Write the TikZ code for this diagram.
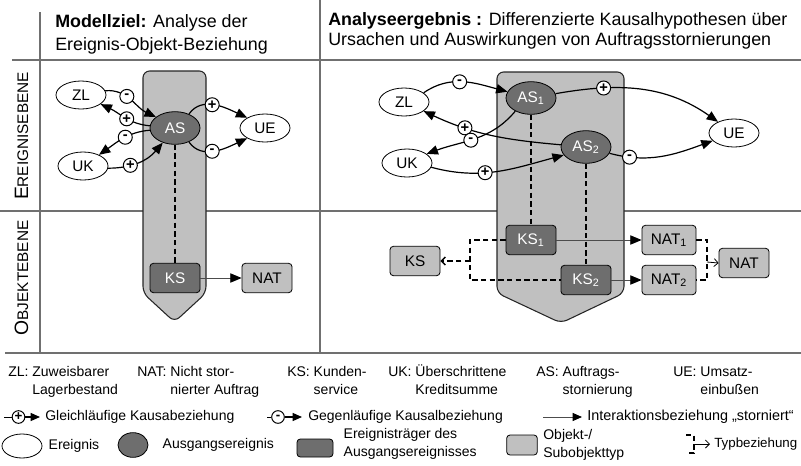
\documentclass[tikz,border=0pt]{standalone}
\usepackage{fontspec}
\setmainfont{Liberation Sans}
\usetikzlibrary{arrows.meta,positioning,shapes.geometric}

\definecolor{hellgrau}{HTML}{C0C0C0}
\definecolor{dunkelgrau}{HTML}{6E6E6E}
\definecolor{liniengrau}{HTML}{707070}

\begin{document}
\begin{tikzpicture}[x=0.75pt,y=0.75pt]
\tikzstyle{trenn}=[draw=liniengrau,line width=0.9pt]
\tikzstyle{saeule}=[draw=black!85,fill=hellgrau,line width=0.8pt,rounded corners=5pt]
\tikzstyle{ereignis}=[ellipse,draw,fill=white,line width=0.6pt,minimum width=37.5pt,minimum height=21pt,inner sep=0pt,font=\fontsize{11.5}{13}\selectfont]
\tikzstyle{ausgang}=[ereignis,fill=dunkelgrau,text=white,minimum height=24.5pt]
\tikzstyle{objekt}=[rectangle,rounded corners=2.5pt,draw,fill=hellgrau,line width=0.6pt,minimum width=37.5pt,minimum height=22pt,inner sep=0pt,font=\fontsize{11.5}{13}\selectfont]
\tikzstyle{traeger}=[objekt,fill=dunkelgrau,text=white]
\tikzstyle{zeichen}=[circle,draw,fill=white,line width=0.75pt,inner sep=0pt,minimum size=10.5pt,font=\fontsize{11}{11}\selectfont\bfseries]
\tikzstyle{kausal}=[draw,line width=0.9pt,-{Triangle[length=8.5pt,width=7pt]}]
\tikzstyle{interaktion}=[draw=black!70,line width=0.7pt,-{Triangle[length=8.5pt,width=7pt,color=black]}]
\tikzstyle{zuordnung}=[draw,line width=1.1pt,dash pattern=on 4pt off 2.5pt]
\tikzstyle{typpfeil}=[draw,line width=0.6pt,-{Straight Barb[length=3pt,width=6pt]}]
\tikzstyle{titel}=[inner sep=0pt,font=\fontsize{13.4}{15}\selectfont]
\tikzstyle{legende}=[inner sep=0pt,font=\fontsize{10.5}{13.5}\selectfont]
\tikzstyle{ebene}=[inner sep=0pt,rotate=90,anchor=base,font=\fontsize{11.5}{13}\selectfont]

\useasboundingbox (0,0) rectangle (801,-465);

% Raster
\draw[trenn] (12,-60) -- (801,-60);
\draw[trenn] (0,-211) -- (801,-211);
\draw[trenn] (5,-353) -- (801,-353);
\draw[trenn] (40,-12) -- (40,-353);
\draw[trenn] (320,0) -- (320,-353);

\node[ebene] (ebE) at (28,-136) {{\fontsize{14.5}{15}\selectfont E}REIGNISEBENE};
\node[ebene] (ebO) at (28,-278) {{\fontsize{14.5}{15}\selectfont O}BJEKTEBENE};

\node[titel,anchor=base west] (zielA) at (55,-27) {\textbf{Modellziel:} Analyse der};
\node[titel,anchor=base west] (zielB) at (55,-50) {Ereignis-Objekt-Beziehung};
\node[titel,anchor=base west] (ergA) at (328,-25) {\textbf{Analyseergebnis :} Differenzierte Kausalhypothesen über};
\node[titel,anchor=base west] (ergB) at (328,-45) {Ursachen und Auswirkungen von Auftragsstornierungen};

% Ereignistraeger
\draw[saeule] (174.5,-71) -- (206,-71) -- (206,-293) -- (174.5,-322) -- (143,-293) -- (143,-71) -- cycle;
\draw[saeule] (561,-72) -- (624,-72) -- (624,-293) -- (561,-323) -- (497,-293) -- (497,-72) -- cycle;

% Modellziel
\node[ereignis] (ZLa) at (81,-95) {ZL};
\node[ereignis] (UKa) at (83,-166) {UK};
\node[ausgang] (ASa) at (175,-128) {AS};
\node[ereignis] (UEa) at (265,-128) {UE};
\node[traeger] (KSa) at (175,-278) {KS};
\node[objekt] (NATa) at (267,-278) {NAT};

\draw[kausal] (ZLa.10) to[out=5,in=155] node[zeichen,pos=0.4]{-} (ASa.150);
\draw[kausal] (ASa.175) to[out=175,in=-25] node[zeichen,pos=0.45]{+} (ZLa.-25);
\draw[kausal] (ASa.185) to[out=185,in=35] node[zeichen,pos=0.45]{-} (UKa.35);
\draw[kausal] (UKa.-5) to[out=0,in=-130] node[zeichen,pos=0.35]{+} (ASa.-130);
\draw[kausal] (ASa.45) to[out=55,in=155] node[zeichen,pos=0.45]{+} (UEa.150);
\draw[kausal] (ASa.-45) to[out=-55,in=-155] node[zeichen,pos=0.45]{-} (UEa.-150);
\draw[zuordnung] (ASa) -- (KSa);
\draw[interaktion] (KSa) -- (NATa);

% Analyseergebnis
\node[ereignis] (ZLb) at (404,-102) {ZL};
\node[ereignis] (UKb) at (407,-163) {UK};
\node[ausgang] (ASb1) at (531,-98) {AS\textsubscript{1}};
\node[ausgang] (ASb2) at (586,-147) {AS\textsubscript{2}};
\node[ereignis] (UEb) at (734,-133) {UE};
\node[traeger] (KSb1) at (531,-240) {KS\textsubscript{1}};
\node[traeger] (KSb2) at (586,-280) {KS\textsubscript{2}};
\node[objekt] (KSb) at (415,-261) {KS};
\node[objekt,minimum width=40.5pt] (NATb1) at (669,-240) {NAT\textsubscript{1}};
\node[objekt,minimum width=40.5pt] (NATb2) at (669,-280) {NAT\textsubscript{2}};
\node[objekt] (NATb) at (744,-263) {NAT};

\draw[kausal] (ZLb.25) to[out=35,in=165] node[zeichen,pos=0.45]{-} (ASb1.165);
\draw[kausal] (ASb2.175) to[out=175,in=-25] node[zeichen,pos=0.7]{+} (ZLb.-25);
\draw[kausal] (ASb1.-140) to[out=-130,in=20] node[zeichen,pos=0.55]{-} (UKb.25);
\draw[kausal] (UKb.-10) to[out=-15,in=-165] node[zeichen,pos=0.4]{+} (ASb2.-160);
\draw[kausal] (ASb1.10) to[out=10,in=145] node[zeichen,pos=0.27]{+} (UEb.145);
\draw[kausal] (ASb2.-15) to[out=-15,in=-160] node[zeichen,pos=0.18]{-} (UEb.-160);
\draw[zuordnung] (ASb1) -- (KSb1);
\draw[zuordnung] (ASb2) -- (KSb2);
\draw[interaktion] (KSb1) -- (NATb1);
\draw[interaktion] (KSb2) -- (NATb2);

\coordinate (kKS) at (470,-261);
\coordinate (kNAT) at (707,-262);
\draw[zuordnung] (KSb1.west) -| (kKS) |- (KSb2.west);
\draw[zuordnung,-{Straight Barb[length=3pt,width=6pt]}] (kKS) -- (KSb.east);
\draw[zuordnung] (NATb1.east) -| (kNAT) |- (NATb2.east);
\draw[typpfeil] (kNAT) -- (NATb.west);

% Legende
\node[legende,anchor=base west] (lZL) at (8,-376) {\begin{tabular}[t]{@{}l@{\ }l@{}}ZL: & Zuweisbarer\\ & Lagerbestand\end{tabular}};
\node[legende,anchor=base west] (lNAT) at (137,-376) {\begin{tabular}[t]{@{}l@{\ }l@{}}NAT: & Nicht stor-\\ & nierter Auftrag\end{tabular}};
\node[legende,anchor=base west] (lKS) at (287,-376) {\begin{tabular}[t]{@{}l@{\ }l@{}}KS: & Kunden-\\ & service\end{tabular}};
\node[legende,anchor=base west] (lUK) at (388,-376) {\begin{tabular}[t]{@{}l@{\ }l@{}}UK: & Überschrittene\\ & Kreditsumme\end{tabular}};
\node[legende,anchor=base west] (lAS) at (536,-376) {\begin{tabular}[t]{@{}l@{\ }l@{}}AS: & Auftrags-\\ & stornierung\end{tabular}};
\node[legende,anchor=base west] (lUE) at (673,-376) {\begin{tabular}[t]{@{}l@{\ }l@{}}UE: & Umsatz-\\ & einbußen\end{tabular}};

\node[zeichen,minimum size=9.5pt,font=\fontsize{10}{10}\selectfont\bfseries] (lplus) at (18.5,-417) {+};
\coordinate (lplusA) at (4,-417);
\coordinate (lplusB) at (40,-417);
\draw[line width=0.75pt] (lplusA) -- (lplus);
\draw[kausal,-{Triangle[length=7pt,width=6pt]}] (lplus) -- (lplusB);
\node[legende,right=3.75pt of lplusB] (lgleich) {Gleichläufige Kausabeziehung};

\node[zeichen,minimum size=9.5pt,font=\fontsize{10}{10}\selectfont\bfseries] (lminus) at (278,-417) {-};
\coordinate (lminusA) at (267,-417);
\coordinate (lminusB) at (302,-417);
\draw[line width=0.75pt] (lminusA) -- (lminus);
\draw[kausal,-{Triangle[length=7pt,width=6pt]}] (lminus) -- (lminusB);
\node[legende,right=4.5pt of lminusB] (lgegen) {Gegenläufige Kausalbeziehung};

\coordinate (linterA) at (543,-417);
\coordinate (linterB) at (582,-417);
\draw[interaktion,-{Triangle[length=7pt,width=6pt,color=black]}] (linterA) -- (linterB);
\node[legende,right=3.75pt of linterB,font=\fontsize{10.8}{13.5}\selectfont] (linter) {Interaktionsbeziehung „storniert“};

\node[ereignis,minimum width=30pt,minimum height=18pt] (lerg) at (22,-446) {};
\node[legende,right=4.5pt of lerg] (lergT) {Ereignis};
\node[ausgang,minimum width=22.5pt,minimum height=18.5pt] (laus) at (133,-445) {};
\node[legende,right=10.5pt of laus] (lausT) {Ausgangsereignis};
\node[traeger,minimum width=27pt,minimum height=13.5pt] (ltr) at (315,-448) {};
\node[legende,align=left,right=7.5pt of ltr,yshift=3pt] (ltrT) {Ereignisträger des\\Ausgangsereignisses};
\node[objekt,minimum width=23pt,minimum height=15pt] (lobj) at (522,-445) {};
\node[legende,align=left,right=4pt of lobj] (lobjT) {Objekt-/\\Subobjekttyp};

\coordinate (ltypA) at (686,-435);
\coordinate (ltypB) at (686,-453);
\coordinate (ltypM) at (694,-444);
\coordinate (ltypC) at (710,-444);
\draw[zuordnung] (ltypA) -| (ltypM) |- (ltypB);
\draw[typpfeil] (ltypM) -- (ltypC);
\node[legende,right=3pt of ltypC,font=\fontsize{10}{12}\selectfont] (ltypT) {Typbeziehung};
\end{tikzpicture}
\end{document}
